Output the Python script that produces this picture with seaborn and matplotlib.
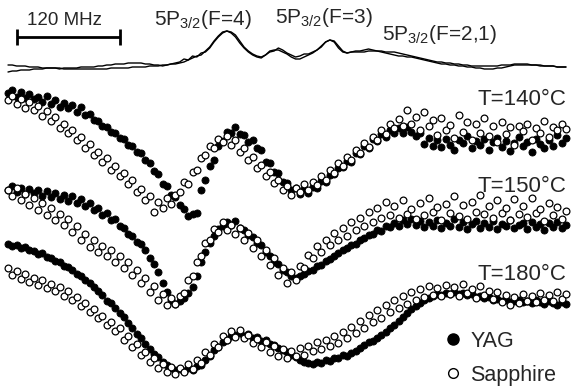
import numpy as np
import pandas as pd
import matplotlib
matplotlib.use("Agg")
import matplotlib.pyplot as plt
from matplotlib.lines import Line2D
import seaborn as sns

# ---------------------------------------------------------------------------
# Data: detuning axis (MHz) and traces (signal, arbitrary offset units,
# larger value = lower on the page)
# ---------------------------------------------------------------------------
detuning = np.arange(0, 655, 5)  # MHz

ref_a = [65, 65, 66, 66, 66, 67, 67, 67, 68, 68,
         68, 68, 68, 69, 69, 69, 69, 69, 69, 69,
         69, 69, 69, 69, 68, 68, 68, 68, 68, 67,
         67, 67, 67, 66, 66, 66, 65, 65, 64, 64,
         63, 62, 60, 58, 56, 55, 51, 47, 41, 36,
         32, 31, 33, 37, 43, 48, 52, 55, 57, 58,
         55, 51, 50, 50, 52, 54, 57, 59, 59, 57,
         55, 53, 50, 47, 42, 40, 42, 48, 52, 53,
         52, 52, 52, 52, 51, 51, 51, 51, 52, 52,
         52, 53, 54, 55, 56, 57, 58, 59, 60, 61,
         62, 62, 63, 63, 64, 64, 65, 65, 66, 66,
         66, 66, 66, 66, 66, 65, 65, 65, 64, 64,
         64, 64, 65, 65, 65, 66, 66, 66, 67, 67,
         67]
ref_b = [72, 71, 71, 70, 70, 70, 69, 69, 69, 68,
         68, 68, 69, 68, 68, 68, 68, 67, 67, 67,
         67, 66, 66, 65, 65, 64, 64, 64, 63, 63,
         63, 63, 64, 64, 65, 65, 66, 65, 64, 63,
         62, 59, 60, 56, 57, 53, 52, 48, 42, 37,
         33, 31, 32, 35, 41, 47, 51, 54, 56, 57,
         55, 52, 51, 48, 50, 53, 55, 57, 56, 54,
         54, 52, 50, 46, 42, 40, 41, 46, 51, 53,
         52, 51, 51, 50, 49, 50, 51, 52, 53, 54,
         55, 56, 56, 57, 57, 58, 59, 60, 61, 62,
         63, 64, 64, 65, 65, 66, 66, 67, 67, 68,
         68, 69, 69, 69, 68, 68, 67, 66, 65, 65,
         65, 65, 65, 65, 66, 66, 66, 66, 67, 67,
         67]

yag_140 = [93, 90, 97, 92, 98, 94, 99, 97, 102, 96,
           104, 100, 107, 103, 108, 105, 112, 107, 115, 114,
           120, 121, 126, 127, 132, 133, 138, 139, 145, 146,
           152, 153, 160, 163, 171, 174, 184, 186, 195, 197,
           205, 209, 216, 214, 213, 190, 180, 166, 160, 146,
           141, 132, 133, 127, 134, 135, 142, 140, 148, 150,
           162, 163, 172, 173, 182, 183, 190, 188, 194, 189,
           193, 187, 188, 181, 182, 175, 174, 168, 167, 161,
           162, 153, 154, 146, 148, 139, 141, 134, 137, 130,
           133, 128, 133, 127, 132, 136, 133, 144, 138, 146,
           140, 147, 139, 145, 150, 140, 143, 136, 148, 141,
           145, 139, 150, 142, 138, 147, 141, 151, 143, 137,
           146, 142, 152, 139, 144, 148, 140, 146, 135, 143,
           138]
sapphire_140 = [100, 96, 104, 99, 108, 102, 110, 106, 116, 111,
                121, 117, 128, 124, 133, 130, 140, 137, 148, 144,
                155, 152, 162, 158, 170, 166, 176, 173, 184, 180,
                192, 189, 200, 196, 212, 202, 208, 198, 204, 195,
                192, 182, 184, 172, 170, 158, 155, 146, 148, 139,
                142, 136, 145, 140, 152, 148, 160, 157, 168, 165,
                176, 172, 183, 180, 190, 186, 195, 188, 192, 184,
                190, 182, 185, 176, 180, 170, 173, 163, 166, 157,
                160, 150, 153, 143, 147, 137, 140, 130, 134, 124,
                128, 119, 126, 110, 124, 117, 130, 112, 126, 120,
                135, 118, 130, 125, 138, 115, 132, 122, 140, 124,
                133, 118, 136, 126, 142, 122, 134, 127, 145, 126,
                131, 124, 140, 128, 133, 121, 137, 127, 130, 124,
                129]

yag_150 = [190, 186, 192, 188, 194, 189, 193, 190, 196, 191,
           197, 193, 199, 195, 201, 196, 203, 199, 206, 203,
           210, 208, 215, 213, 220, 219, 226, 228, 234, 236,
           242, 244, 250, 258, 264, 272, 283, 292, 300, 304,
           301, 298, 293, 287, 276, 262, 252, 243, 236, 229,
           226, 222, 225, 221, 228, 230, 235, 237, 243, 245,
           252, 256, 262, 264, 270, 272, 276, 278, 276, 274,
           271, 270, 266, 265, 261, 259, 256, 253, 250, 248,
           245, 244, 240, 238, 235, 234, 230, 231, 226, 227,
           223, 226, 220, 224, 219, 225, 221, 227, 222, 226,
           220, 228, 223, 226, 219, 227, 222, 229, 224, 221,
           228, 223, 227, 221, 229, 224, 226, 220, 228, 225,
           223, 229, 222, 227, 224, 230, 223, 227, 222, 228,
           225]
sapphire_150 = [190, 196, 188, 200, 194, 205, 198, 210, 203, 215,
                208, 220, 214, 225, 219, 232, 226, 240, 234, 247,
                240, 252, 246, 256, 250, 262, 256, 268, 262, 275,
                270, 283, 278, 292, 286, 300, 294, 305, 298, 304,
                296, 293, 280, 276, 262, 256, 243, 240, 229, 232,
                222, 230, 225, 234, 228, 240, 233, 248, 240, 256,
                250, 265, 258, 275, 268, 283, 272, 280, 266, 268,
                255, 258, 246, 252, 240, 245, 233, 240, 228, 236,
                222, 230, 218, 226, 212, 222, 208, 218, 202, 215,
                206, 218, 200, 214, 209, 219, 203, 215, 198, 212,
                207, 220, 204, 213, 196, 216, 205, 219, 202, 212,
                195, 214, 206, 218, 200, 213, 208, 220, 199, 214,
                206, 217, 198, 213, 209, 221, 203, 215, 207, 219,
                211]

yag_180 = [244, 246, 245, 248, 247, 250, 251, 254, 253, 257,
           258, 261, 262, 266, 267, 270, 274, 276, 280, 283,
           287, 291, 295, 301, 303, 308, 313, 317, 323, 328,
           334, 338, 344, 349, 354, 357, 362, 365, 368, 370,
           369, 371, 368, 370, 366, 365, 360, 356, 350, 347,
           342, 340, 336, 335, 333, 336, 334, 338, 337, 341,
           340, 344, 345, 348, 350, 352, 355, 357, 360, 362,
           363, 364, 362, 363, 360, 361, 358, 358, 355, 356,
           353, 351, 348, 345, 342, 341, 338, 335, 332, 328,
           325, 321, 317, 313, 309, 306, 303, 300, 298, 296,
           294, 295, 293, 294, 292, 294, 293, 295, 294, 297,
           296, 298, 297, 300, 299, 301, 300, 302, 301, 300,
           302, 301, 303, 300, 302, 304, 301, 303, 305, 302,
           304]
sapphire_180 = [268, 275, 271, 279, 274, 282, 278, 285, 280, 288,
                284, 291, 287, 296, 291, 300, 297, 306, 303, 312,
                309, 318, 316, 325, 322, 331, 328, 340, 336, 347,
                344, 355, 352, 362, 358, 368, 364, 372, 367, 374,
                368, 372, 364, 369, 360, 363, 352, 355, 344, 347,
                336, 340, 331, 337, 330, 338, 335, 343, 339, 347,
                342, 352, 346, 356, 349, 358, 351, 356, 348, 355,
                346, 351, 342, 349, 340, 346, 336, 343, 332, 338,
                327, 333, 321, 328, 315, 322, 310, 318, 305, 312,
                300, 308, 296, 304, 292, 300, 289, 297, 286, 295,
                288, 296, 285, 294, 287, 296, 284, 293, 289, 298,
                286, 295, 291, 299, 292, 302, 295, 305, 297, 303,
                294, 301, 296, 302, 293, 300, 295, 301, 292, 299,
                294]

temperatures = ["140", "150", "180"]
crystals = ["YAG", "Sapphire"]
series = {
    ("YAG", "140"): yag_140, ("Sapphire", "140"): sapphire_140,
    ("YAG", "150"): yag_150, ("Sapphire", "150"): sapphire_150,
    ("YAG", "180"): yag_180, ("Sapphire", "180"): sapphire_180,
}
scale_mhz = 120
level_labels = ["5P$_{3/2}$(F=4)", "5P$_{3/2}$(F=3)", "5P$_{3/2}$(F=2,1)"]

frames = []
for (crystal, temp), vals in series.items():
    frames.append(pd.DataFrame({"detuning": detuning, "signal": vals,
                                "crystal": crystal, "T": temp}))
data = pd.DataFrame(pd.concat(frames, ignore_index=True))

# ---------------------------------------------------------------------------
# Figure
# ---------------------------------------------------------------------------
sns.set_theme(style="white")
plt.rcParams["font.family"] = ["Liberation Sans", "DejaVu Sans"]
plt.rcParams["mathtext.fontset"] = "custom"
plt.rcParams["mathtext.rm"] = "Liberation Sans"
plt.rcParams["mathtext.it"] = "Liberation Sans:italic"
plt.rcParams["mathtext.default"] = "regular"

W, H = 572, 389
fig = plt.figure(figsize=(W / 100, H / 100), dpi=100)
ax = fig.add_axes([0, 0, 1, 1])
mhz_per_px = 1.165
ax.set_xlim(-8 * mhz_per_px, (W - 8) * mhz_per_px)
ax.set_ylim(H, 0)
ax.set_axis_off()

# reference spectra
for ref in (ref_a, ref_b):
    sns.lineplot(x=detuning, y=ref, color="black", lw=1.0, ax=ax,
                 estimator=None, sort=False)

styles = {
    "YAG": dict(color="black", edgecolor="black", linewidth=0.6, s=26),
    "Sapphire": dict(color="white", edgecolor="black", linewidth=0.9, s=24),
}
for crystal in crystals:
    sub = data[data["crystal"] == crystal]
    sns.scatterplot(data=sub, x="detuning", y="signal", ax=ax,
                    legend=False, zorder=3, **styles[crystal])

# scale bar
bar_y = 37
x0 = 10
ax.plot([x0, x0 + scale_mhz], [bar_y, bar_y], color="black", lw=2.0,
        solid_capstyle="butt")
ax.vlines([x0, x0 + scale_mhz], bar_y - 8, bar_y + 8, color="black", lw=2.0)


def fpos(px, py):
    return px / W, 1 - py / H


fig.text(*fpos(27, 25), f"{scale_mhz} MHz", fontsize=13.5, ha="left",
         va="baseline")
for label, (px, py) in zip(level_labels, [(154, 25), (275, 23), (382, 40)]):
    fig.text(*fpos(px, py), label, fontsize=15, ha="left", va="baseline")
for temp, py in zip(temperatures, [105, 192, 280]):
    fig.text(*fpos(566, py), f"T={temp}°C", fontsize=16, ha="right",
             va="baseline")

handles = [
    Line2D([], [], ls="none", marker="o", markersize=8,
           markerfacecolor="black", markeredgecolor="black"),
    Line2D([], [], ls="none", marker="o", markersize=7,
           markerfacecolor="white", markeredgecolor="black",
           markeredgewidth=1.0),
]
ax.legend(handles, crystals, loc="upper left", bbox_to_anchor=(0.777, 0.15),
          frameon=False, fontsize=15.5, handlelength=0.8, handletextpad=0.4,
          labelspacing=0.6, borderpad=0, borderaxespad=0)

fig.savefig("out.png", dpi=100)
